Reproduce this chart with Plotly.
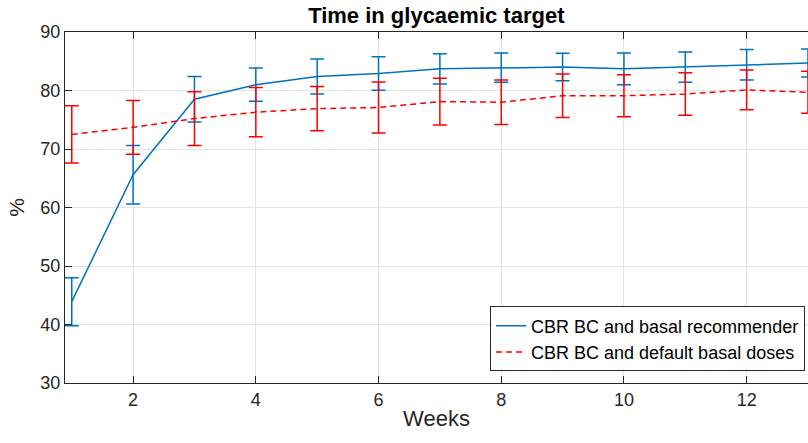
import plotly.graph_objects as go

weeks = list(range(1, 14))
rec_mean = [43.9, 65.6, 78.5, 81.0, 82.4, 82.9, 83.7, 83.9, 84.0, 83.7, 84.0, 84.4, 84.7]
rec_err = [4.1, 5.0, 3.9, 2.85, 3.0, 2.85, 2.6, 2.5, 2.35, 2.7, 2.6, 2.6, 2.4]
def_mean = [72.5, 73.7, 75.2, 76.3, 76.9, 77.1, 78.1, 78.0, 79.1, 79.1, 79.4, 80.1, 79.7]
def_err = [4.9, 4.6, 4.6, 4.2, 3.8, 4.35, 4.0, 3.8, 3.7, 3.6, 3.65, 3.4, 3.6]
x_ticks = [2, 4, 6, 8, 10, 12]
y_ticks = [30, 40, 50, 60, 70, 80, 90]

BLUE = "#0072BD"
RED = "#FF0000"
AX = "#262626"
FONT = "Liberation Sans, Arial, Helvetica, sans-serif"

fig = go.Figure()
fig.add_trace(go.Scatter(
    x=weeks, y=rec_mean, mode="lines", name="CBR BC and basal recommender",
    line=dict(color=BLUE, width=1.5),
    error_y=dict(type="data", array=rec_err, symmetric=True, color=BLUE, thickness=1.5, width=7),
))
fig.add_trace(go.Scatter(
    x=weeks, y=def_mean, mode="lines", name="CBR BC and default basal doses",
    line=dict(color=RED, width=1.5, dash="6px,4px"),
    error_y=dict(type="data", array=def_err, symmetric=True, color=RED, thickness=1.5, width=7),
))

fig.update_layout(
    width=808, height=443,
    margin=dict(l=65, r=0, t=32, b=60),
    paper_bgcolor="white", plot_bgcolor="white",
    font=dict(family=FONT, color=AX, size=18),
    title=dict(text="<b>Time in glycaemic target</b>", x=0.54, xanchor="center",
               y=0.965, yanchor="middle", font=dict(size=22, color="black")),
    showlegend=True,
    legend=dict(x=0.996, xanchor="right", y=0.218, yanchor="top",
                bgcolor="white", bordercolor=AX, borderwidth=1,
                font=dict(size=18, color="black"), tracegroupgap=0,
                itemwidth=30),
)
fig.update_xaxes(
    range=[0.89, 13.0], tickvals=x_ticks, ticks="inside", ticklen=7, tickcolor=AX,
    showline=True, linecolor=AX, linewidth=1, mirror="ticks",
    showgrid=True, gridcolor="#E3E3E3", gridwidth=1, zeroline=False,
    title=dict(text="Weeks", font=dict(size=22, color=AX), standoff=2),
    tickfont=dict(size=18, color=AX),
)
fig.update_yaxes(
    range=[30, 90], tickvals=y_ticks, ticks="inside", ticklen=7, tickcolor=AX,
    showline=True, linecolor=AX, linewidth=1, mirror=False,
    showgrid=True, gridcolor="#E3E3E3", gridwidth=1, zeroline=False,
    title=dict(text="%", font=dict(size=21, color=AX), standoff=10),
    tickfont=dict(size=18, color=AX),
)

fig.write_html("out.html")
